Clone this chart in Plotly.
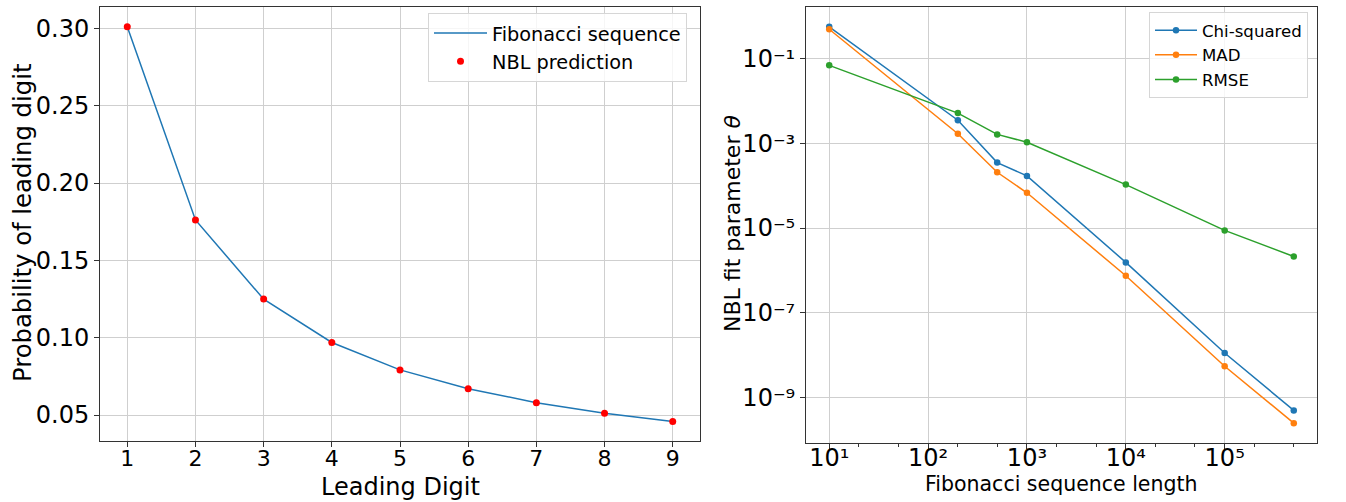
import plotly.graph_objects as go

# ---- data ----
digits = [1, 2, 3, 4, 5, 6, 7, 8, 9]
fib_prob = [0.3010, 0.1761, 0.1249, 0.0969, 0.0792, 0.0670, 0.0580, 0.0512, 0.0458]
nbl_prob = [0.30103, 0.17609, 0.12494, 0.09691, 0.07918, 0.06695, 0.05799, 0.05115, 0.04576]

seq_len = [10, 200, 500, 1000, 10000, 100000, 500000]
chi_sq = [0.56, 3.5e-3, 3.5e-4, 1.7e-4, 1.55e-6, 1.13e-8, 5.0e-10]
mad = [0.49, 1.68e-3, 2.07e-4, 6.8e-5, 7.5e-7, 5.5e-9, 2.5e-10]
rmse = [0.069, 5.16e-3, 1.62e-3, 1.06e-3, 1.06e-4, 8.8e-6, 2.13e-6]

left_yticks = [0.05, 0.10, 0.15, 0.20, 0.25, 0.30]
right_xticks = [10, 100, 1000, 10000, 100000]
right_xticktext = ["10¹", "10²", "10³", "10⁴", "10⁵"]
right_yticks = [1e-1, 1e-3, 1e-5, 1e-7, 1e-9]
right_yticktext = ["10⁻¹", "10⁻³", "10⁻⁵", "10⁻⁷", "10⁻⁹"]

W, H = 1346, 502
FONT = "DejaVu Sans"
BLUE, ORANGE, GREEN = "#1f77b4", "#ff7f0e", "#2ca02c"
GRID = "#cfcfcf"
AX = "#333333"

def px(x):
    return x / W

def py(y):
    return 1 - y / H

fig = go.Figure()

fig.add_trace(go.Scatter(x=digits, y=fib_prob, mode="lines", name="Fibonacci sequence",
                         line=dict(color=BLUE, width=1.5), xaxis="x", yaxis="y", legend="legend"))
fig.add_trace(go.Scatter(x=digits, y=nbl_prob, mode="markers", name="NBL prediction",
                         marker=dict(color="red", size=7), xaxis="x", yaxis="y", legend="legend"))

for name, vals, col in [("Chi-squared", chi_sq, BLUE), ("MAD", mad, ORANGE), ("RMSE", rmse, GREEN)]:
    fig.add_trace(go.Scatter(x=seq_len, y=vals, mode="lines+markers", name=name,
                             line=dict(color=col, width=1.5), marker=dict(color=col, size=6.5),
                             xaxis="x2", yaxis="y2", legend="legend2"))

common = dict(showline=True, linecolor=AX, linewidth=1, mirror=True, showgrid=True,
              gridcolor=GRID, gridwidth=1, ticks="outside", ticklen=5, tickcolor=AX,
              zeroline=False, automargin=False)

fig.update_layout(
    width=W, height=H,
    margin=dict(l=0, r=0, t=0, b=0),
    paper_bgcolor="white", plot_bgcolor="white",
    font=dict(family=FONT, color="black"),
    xaxis=dict(domain=[px(100), px(700)], range=[0.6, 9.4], tickvals=digits,
               tickfont=dict(size=22), ticklabelstandoff=-7, anchor="y", **common),
    yaxis=dict(domain=[py(441), py(7)], range=[0.0332, 0.3138], tickvals=left_yticks,
               ticktext=[f"{v:.2f}" for v in left_yticks], tickfont=dict(size=24), anchor="x", **common),
    xaxis2=dict(domain=[px(806), px(1317)], type="log", range=[0.765, 5.934],
                tickvals=right_xticks, ticktext=right_xticktext,
                tickfont=dict(size=24), ticklabelstandoff=-12, anchor="y2",
                minor=dict(ticks="outside", ticklen=3, tickcolor=AX, showgrid=False), **common),
    yaxis2=dict(domain=[py(443), py(7)], type="log", range=[-10.07, 0.215],
                tickvals=right_yticks, ticktext=right_yticktext,
                tickfont=dict(size=24), anchor="x2", **common),
    legend=dict(x=px(428), y=py(13), xanchor="left", yanchor="top",
                bgcolor="rgba(255,255,255,0.8)", bordercolor="#d6d6d6", borderwidth=1,
                font=dict(size=19.3, family=FONT), itemwidth=53),
    legend2=dict(x=px(1149), y=py(12), xanchor="left", yanchor="top",
                 bgcolor="rgba(255,255,255,0.8)", bordercolor="#d6d6d6", borderwidth=1,
                 font=dict(size=16.6, family=FONT), itemwidth=42),
    annotations=[
        dict(text="Leading Digit", x=px(400), y=py(487), xref="paper", yref="paper",
             showarrow=False, font=dict(size=24), xanchor="center", yanchor="middle"),
        dict(text="Probability of leading digit", x=px(22), y=py(223), xref="paper", yref="paper",
             showarrow=False, font=dict(size=24.3), textangle=-90, xanchor="center", yanchor="middle"),
        dict(text="Fibonacci sequence length", x=px(1061), y=py(484), xref="paper", yref="paper",
             showarrow=False, font=dict(size=20.5), xanchor="center", yanchor="middle"),
        dict(text="NBL fit parameter <i>θ</i>", x=px(732), y=py(223), xref="paper", yref="paper",
             showarrow=False, font=dict(size=22), textangle=-90, xanchor="center", yanchor="middle"),
    ],
)

fig.write_html("out.html", post_script="document.body.style.margin='0';",
               config={"displayModeBar": False})
